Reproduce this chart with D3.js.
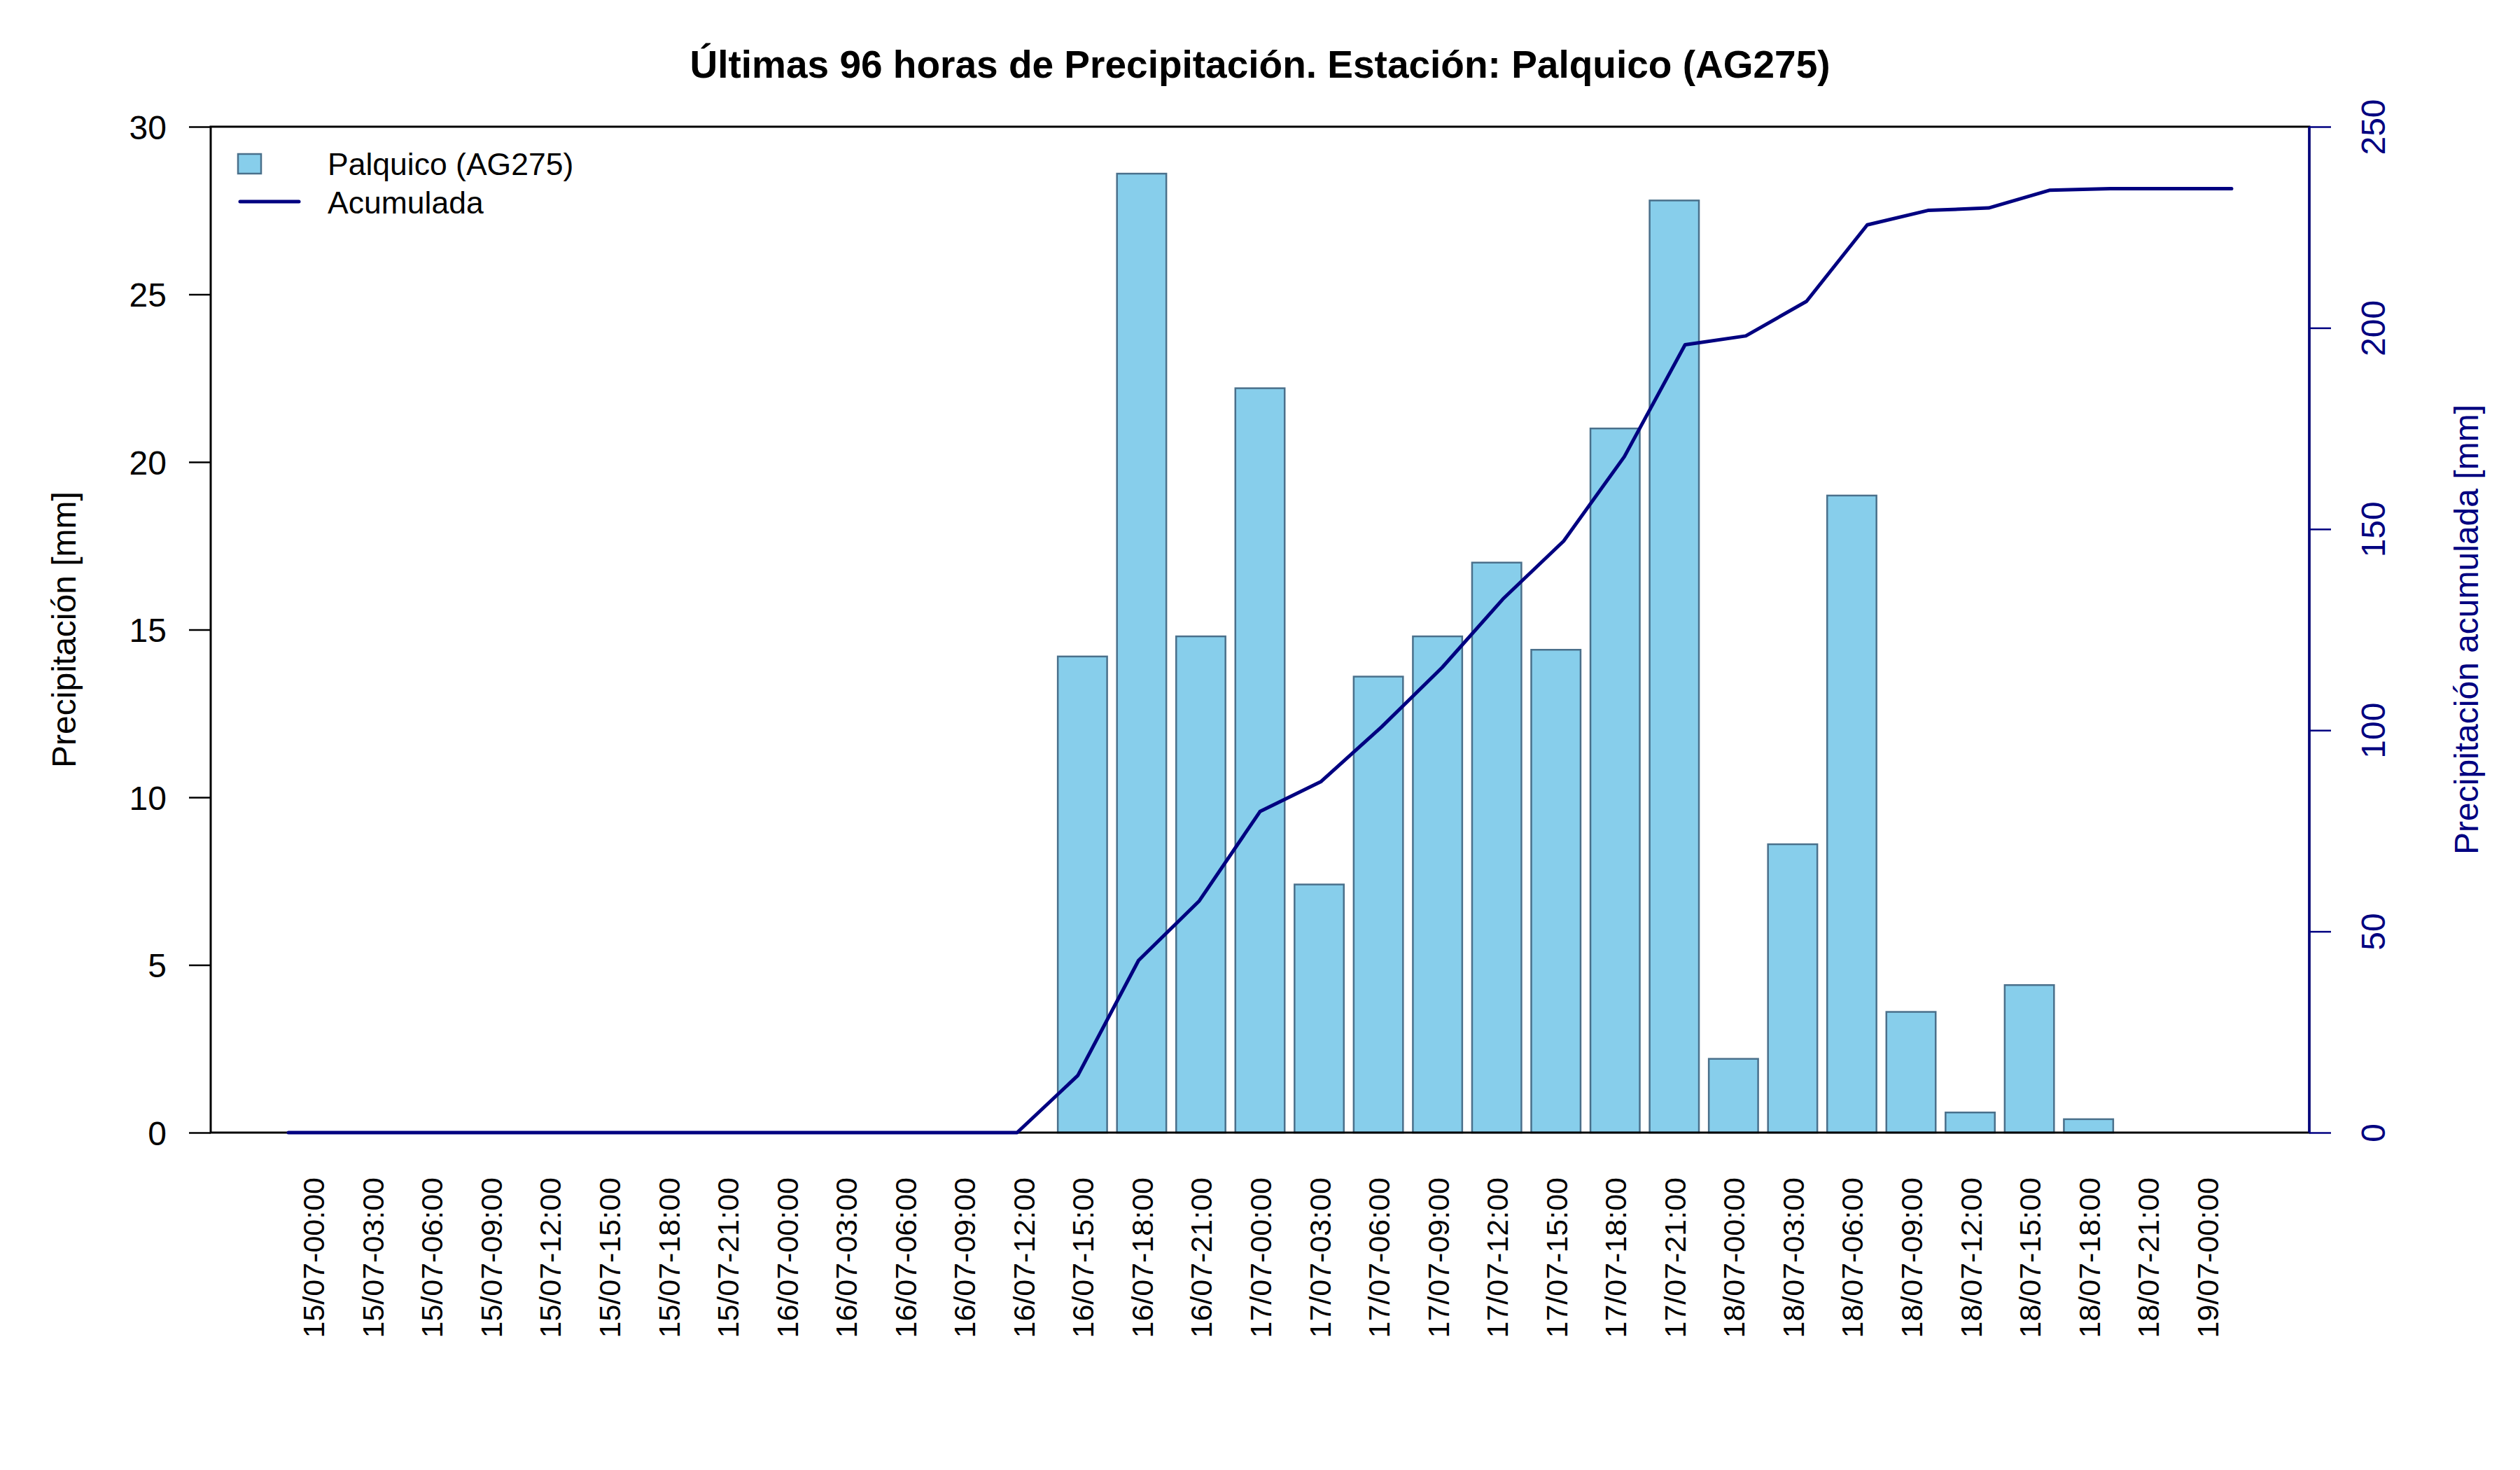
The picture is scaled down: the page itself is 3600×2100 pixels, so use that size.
<!DOCTYPE html>
<html>
<meta charset="utf-8">
<style>
body {
margin: 0;
background: #fff;
}
svg text {
font-family: "Liberation Sans", Arial, Helvetica, sans-serif;
}
.title {
font-size: 55px;
font-weight: bold;
text-anchor: middle;
fill: #000;
}
.bar {
fill: #87ceeb;
stroke: #4a708b;
stroke-width: 2.5;
}
.acum {
fill: none;
stroke: #000080;
stroke-width: 5;
stroke-linejoin: round;
stroke-linecap: round;
}
.frame {
stroke: #000;
stroke-width: 3;
}
.ylab {
font-size: 48px;
text-anchor: middle;
}
.legend-text {
font-size: 44.5px;
fill: #000;
}
</style>
<body>
<script src="https://cdn.jsdelivr.net/npm/d3@7"></script>
<script>

// categorias (cada 3 horas)
var categories = [
  "15/07-00:00", "15/07-03:00", "15/07-06:00", "15/07-09:00", "15/07-12:00", "15/07-15:00", "15/07-18:00", "15/07-21:00",
  "16/07-00:00", "16/07-03:00", "16/07-06:00", "16/07-09:00", "16/07-12:00", "16/07-15:00", "16/07-18:00", "16/07-21:00",
  "17/07-00:00", "17/07-03:00", "17/07-06:00", "17/07-09:00", "17/07-12:00", "17/07-15:00", "17/07-18:00", "17/07-21:00",
  "18/07-00:00", "18/07-03:00", "18/07-06:00", "18/07-09:00", "18/07-12:00", "18/07-15:00", "18/07-18:00", "18/07-21:00",
  "19/07-00:00"
];

// precipitacion [mm] por intervalo
var precip = [0, 0, 0, 0, 0, 0, 0, 0, 0, 0, 0, 0, 0,
  14.2, 28.6, 14.8, 22.2, 7.4, 13.6, 14.8, 17.0, 14.4, 21.0, 27.8,
  2.2, 8.6, 19.0, 3.6, 0.6, 4.4, 0.4, 0, 0];

// precipitacion acumulada [mm]
var acumulada = [0, 0, 0, 0, 0, 0, 0, 0, 0, 0, 0, 0, 0,
  14.2, 42.8, 57.6, 79.8, 87.2, 100.8, 115.6, 132.6, 147.0, 168.0, 195.8,
  198.0, 206.6, 225.6, 229.2, 229.8, 234.2, 234.6, 234.6, 234.6];

var leftTicks = [0, 5, 10, 15, 20, 25, 30];
var rightTicks = [0, 50, 100, 150, 200, 250];

var W = 3600, H = 2100;
var pL = 301, pR = 3299, pT = 181, pB = 1618;

var svg = d3.select("body").append("svg")
    .attr("width", W)
    .attr("height", H);

// barplot coords like R: bar i from 0.2+1.2i to 1.2+1.2i, xlim = range + 4%
var n = categories.length;
var x0 = 0.2, x1 = 1.2 * n;
var pad = (x1 - x0) * 0.04;
var xBar = d3.scaleLinear().domain([x0 - pad, x1 + pad]).range([pL, pR]);
var yBar = d3.scaleLinear().domain([0, 30]).range([pB, pT]);

// the line is on its own plot, index 1..n with 4% padding
var padL = (n - 1) * 0.04;
var xLine = d3.scaleLinear().domain([1 - padL, n + padL]).range([pL, pR]);
var yLine = d3.scaleLinear().domain([0, 250]).range([pB, pT]);

svg.append("text")
    .attr("class", "title")
    .attr("x", (pL + pR) / 2)
    .attr("y", 111)
    .text("Últimas 96 horas de Precipitación. Estación: Palquico (AG275)");

// bars
svg.append("g").selectAll(".bar")
    .data(precip)
    .enter()
    .append("rect")
    .attr("class", "bar")
    .attr("x", function(d, i) { return xBar(0.2 + 1.2 * i); })
    .attr("width", function(d, i) { return xBar(1.2 + 1.2 * i) - xBar(0.2 + 1.2 * i); })
    .attr("y", function(d) { return yBar(d); })
    .attr("height", function(d) { return yBar(0) - yBar(d); })
    .style("display", function(d) { return d > 0 ? null : "none"; });

// frame
svg.append("rect")
    .attr("x", pL).attr("y", pT)
    .attr("width", pR - pL).attr("height", pB - pT)
    .attr("fill", "none")
    .attr("class", "frame");

// left axis
var yAxisL = svg.append("g")
    .attr("transform", "translate(" + pL + ",0)")
    .call(d3.axisLeft(yBar).tickValues(leftTicks).tickSize(31).tickPadding(32));
yAxisL.select(".domain").remove();
yAxisL.selectAll("line").attr("stroke", "#000").attr("stroke-width", 2.5);
yAxisL.selectAll("text")
    .attr("fill", "#000")
    .style("font-size", "48px")
    .style("font-family", "Liberation Sans, Arial, sans-serif")
    .attr("dy", "0.36em");

// bottom labels
var xAxis = svg.append("g")
    .attr("transform", "translate(0," + pB + ")")
    .call(d3.axisBottom(xBar)
      .tickValues(d3.range(n).map(function(i) { return 0.7 + 1.2 * i; }))
      .tickFormat(function(d, i) { return categories[i]; })
      .tickSize(0));
xAxis.select(".domain").remove();
xAxis.selectAll("text")
    .attr("fill", "#000")
    .style("font-size", "43px")
    .style("font-family", "Liberation Sans, Arial, sans-serif")
    .attr("text-anchor", "end")
    .attr("transform", "rotate(-90)")
    .attr("x", -64)
    .attr("y", 0)
    .attr("dy", "0.36em");

// accumulated line
var line = d3.line()
    .x(function(d, i) { return xLine(i + 1); })
    .y(function(d) { return yLine(d); });

svg.append("path")
    .datum(acumulada)
    .attr("class", "acum")
    .attr("d", line);

// right axis
var yAxisR = svg.append("g")
    .attr("transform", "translate(" + pR + ",0)")
    .call(d3.axisRight(yLine).tickValues(rightTicks).tickSize(31));
yAxisR.select(".domain")
    .attr("stroke", "#000080")
    .attr("stroke-width", 3.5)
    .attr("d", "M0," + pT + "V" + pB);
yAxisR.selectAll("line").attr("stroke", "#000080").attr("stroke-width", 2.5);
yAxisR.selectAll("text")
    .attr("fill", "#000080")
    .style("font-size", "48px")
    .style("font-family", "Liberation Sans, Arial, sans-serif")
    .attr("text-anchor", "middle")
    .attr("x", 0)
    .attr("dy", 0)
    .attr("transform", "translate(108,0) rotate(-90)");

// axis titles
svg.append("text")
    .attr("class", "ylab")
    .attr("transform", "translate(108," + (pT + pB) / 2 + ") rotate(-90)")
    .attr("fill", "#000")
    .text("Precipitación [mm]");

svg.append("text")
    .attr("class", "ylab")
    .attr("transform", "translate(3540," + (pT + pB) / 2 + ") rotate(-90)")
    .attr("fill", "#000080")
    .text("Precipitación acumulada [mm]");

// legend
var legend = svg.append("g");
legend.append("rect")
    .attr("class", "bar")
    .attr("x", 340).attr("y", 220)
    .attr("width", 33).attr("height", 28);
legend.append("line")
    .attr("class", "acum")
    .attr("x1", 343).attr("x2", 427)
    .attr("y1", 288).attr("y2", 288);
legend.append("text")
    .attr("class", "legend-text")
    .attr("x", 468).attr("y", 250)
    .text("Palquico (AG275)");
legend.append("text")
    .attr("class", "legend-text")
    .attr("x", 468).attr("y", 305)
    .text("Acumulada");

</script>
</body>
</html>
